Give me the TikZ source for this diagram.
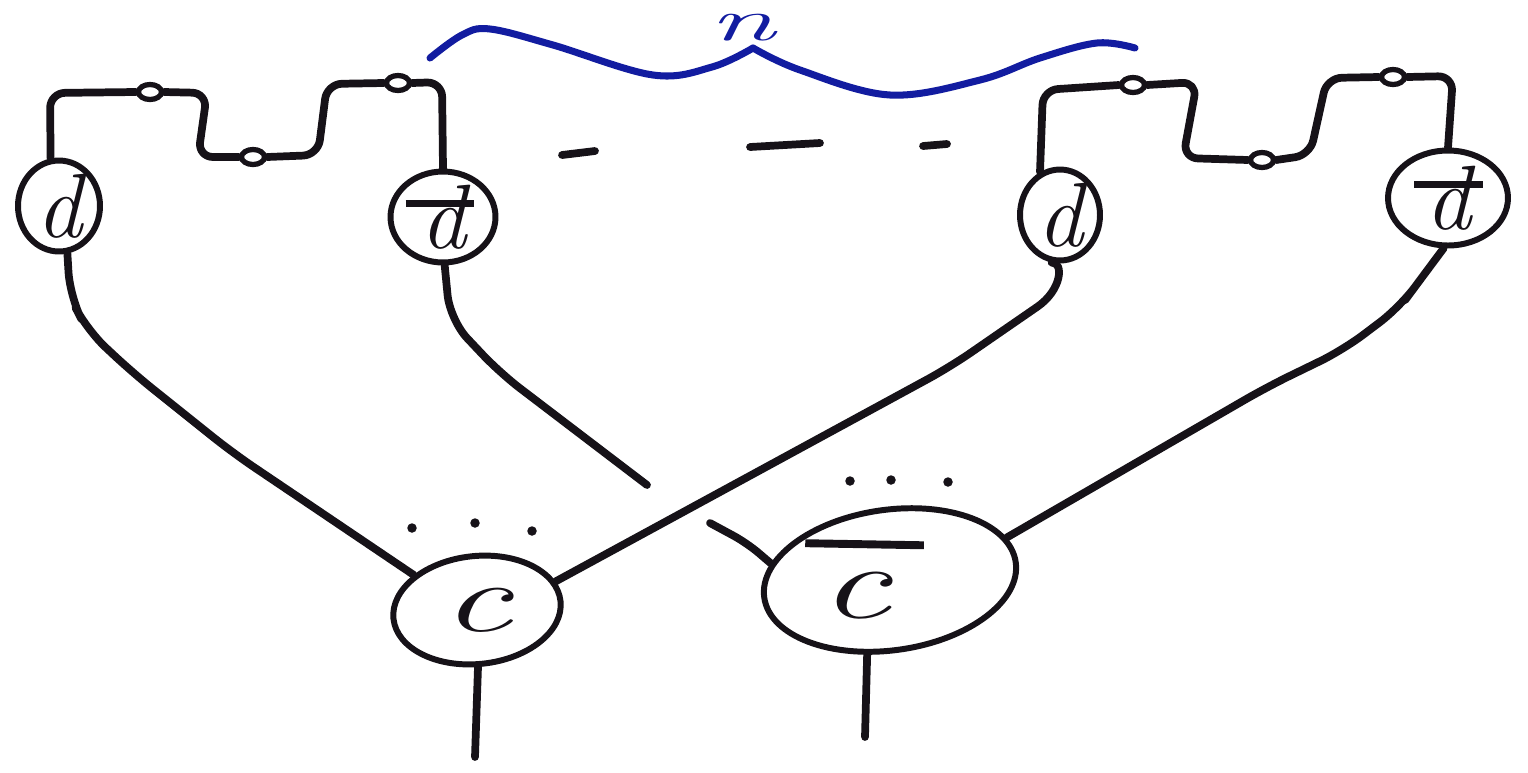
\documentclass[tikz,border=0pt]{standalone}
\usetikzlibrary{shapes.geometric}
\definecolor{ink}{RGB}{22,18,24}
\definecolor{pen}{RGB}{18,28,160}
\tikzset{
  wire/.style={line width=4.4pt, line cap=round, line join=round, draw=ink},
  blob/.style={ellipse, draw=ink, line width=3.4pt, inner sep=0pt, text=ink},
  knot/.style={ellipse, draw=ink, line width=3pt, minimum width=0.46cm, minimum height=0.3cm, inner sep=0pt},
  brace/.style={line width=4pt, draw=pen, line cap=round, line join=round},
  dot/.style={fill=ink},
  big/.style={font=\fontsize{52}{52}\selectfont\itshape},
  huge/.style={font=\fontsize{56}{56}\selectfont\itshape}
}
% letter with a drawn bar: #1 letter, #2 bar width, #3 left offset, #4 raise
\newcommand{\barover}[4]{\makebox[0pt][l]{\hspace*{#3}\rule[#4]{#2}{0.075em}}#1}
\begin{document}
\begin{tikzpicture}[x=0.02cm, y=-0.02cm]
\useasboundingbox (0,0) rectangle (1528,772);

% small circles
\node[blob, big, minimum width=1.64cm, minimum height=1.42cm] (d1) at (59,206) {d};
\node[blob, big, minimum width=2.1cm, minimum height=1.62cm] (d2) at (443,217) {\barover{d}{0.75em}{-0.16em}{0.45em}};
\node[blob, big, minimum width=1.6cm, minimum height=1.14cm] (d3) at (1060,215) {d};
\node[blob, big, minimum width=2.4cm, minimum height=1.9cm] (d4) at (1448,198) {\barover{d}{0.75em}{-0.12em}{0.45em}};

% large ellipses
\node[blob, huge, minimum width=3.36cm, minimum height=2.16cm, rotate=6] (c) at (477,610) {\rotatebox{-6}{\scalebox{1.6}[1]{c}}};
\node[blob, minimum width=5.08cm, minimum height=2.8cm, rotate=8] (cb) at (890,580) {\rotatebox{-9}{\fontsize{60}{60}\selectfont\itshape\scalebox{1.5}[1]{\barover{c}{0.75em}{-0.1em}{0.66em}\kern0.43em}}};

% loops on the wires
\node[knot] (l1) at (150,92) {};
\node[knot] (l2) at (253,157) {};
\node[knot] (l3) at (398,83) {};
\node[knot] (l4) at (1133,85) {};
\node[knot] (l5) at (1262,160) {};
\node[knot] (l6) at (1393,77) {};

% free ends
\coordinate (e2) at (647,485);
\coordinate (e3) at (710,523);
\coordinate (s1) at (475,757);
\coordinate (s2) at (865,737);

% top wires, left
\draw[wire, rounded corners=0.3cm] (d1.100) -- (50,93) -- (l1.west);
\draw[wire, rounded corners=0.3cm] (l1.east) -- (207,93) -- (198,157) -- (l2.west);
\draw[wire, rounded corners=0.3cm] (l2.east) -- (318,155) -- (327,84) -- (l3.west);
\draw[wire, rounded corners=0.3cm] (l3.east) -- (442,82) -- (d2.north);
% top wires, right
\draw[wire, rounded corners=0.3cm] (d3.115) -- (1043,90) -- (l4.west);
\draw[wire, rounded corners=0.3cm] (l4.east) -- (1197,82) -- (1183,158) -- (l5.west);
\draw[wire, rounded corners=0.3cm] (l5.east) -- (1310,155) -- (1327,78) -- (l6.west);
\draw[wire, rounded corners=0.3cm] (l6.east) -- (1453,76) -- (d4.north);

% lower wires
\draw[wire, rounded corners=0.5cm] (d1.-80) -- (70,297) -- (87,330) -- (133,373) -- (233,453) -- (c.145);
\draw[wire, rounded corners=0.5cm] (d2.-88) -- (450,320) -- (500,373) -- (e2);
\draw[wire] (d3.-100) .. controls (1064,262) and (1062,290) .. (1037,307) [rounded corners=0.5cm] -- (950,367) -- (c.14);
\draw[wire, rounded corners=0.5cm] (d4.-95) -- (1420,280) -- (1400,307) -- (1343,350) -- (1267,387) -- (cb.12);
\draw[wire, rounded corners=0.3cm] (e3) -- (747,543) -- (cb.164);
\draw[wire] (c.-95) -- (s1);
\draw[wire] (cb.-115) -- (s2);

% dashes
\draw[wire] (562,155) -- (595,151);
\draw[wire] (750,147) -- (820,143);
\draw[wire] (923,146) -- (947,144);

% dots
\foreach \p in {(412,528),(475,523),(532,531),(850,481),(891,480),(948,482)}
  \fill[dot] \p circle (0.095cm);

% blue brace
\draw[brace] plot[smooth, tension=0.6] coordinates {(430,58) (462,35) (490,29) (553,45) (653,75) (712,67) (753,48)};
\draw[brace] plot[smooth, tension=0.6] coordinates {(753,48) (800,70) (890,95) (980,80) (1040,58) (1097,43) (1135,48)};
\node[text=pen, inner sep=0pt, font=\fontsize{34}{34}\selectfont\itshape] (n) at (742,28) {\scalebox{2}[1]{n}};
\end{tikzpicture}
\end{document}
